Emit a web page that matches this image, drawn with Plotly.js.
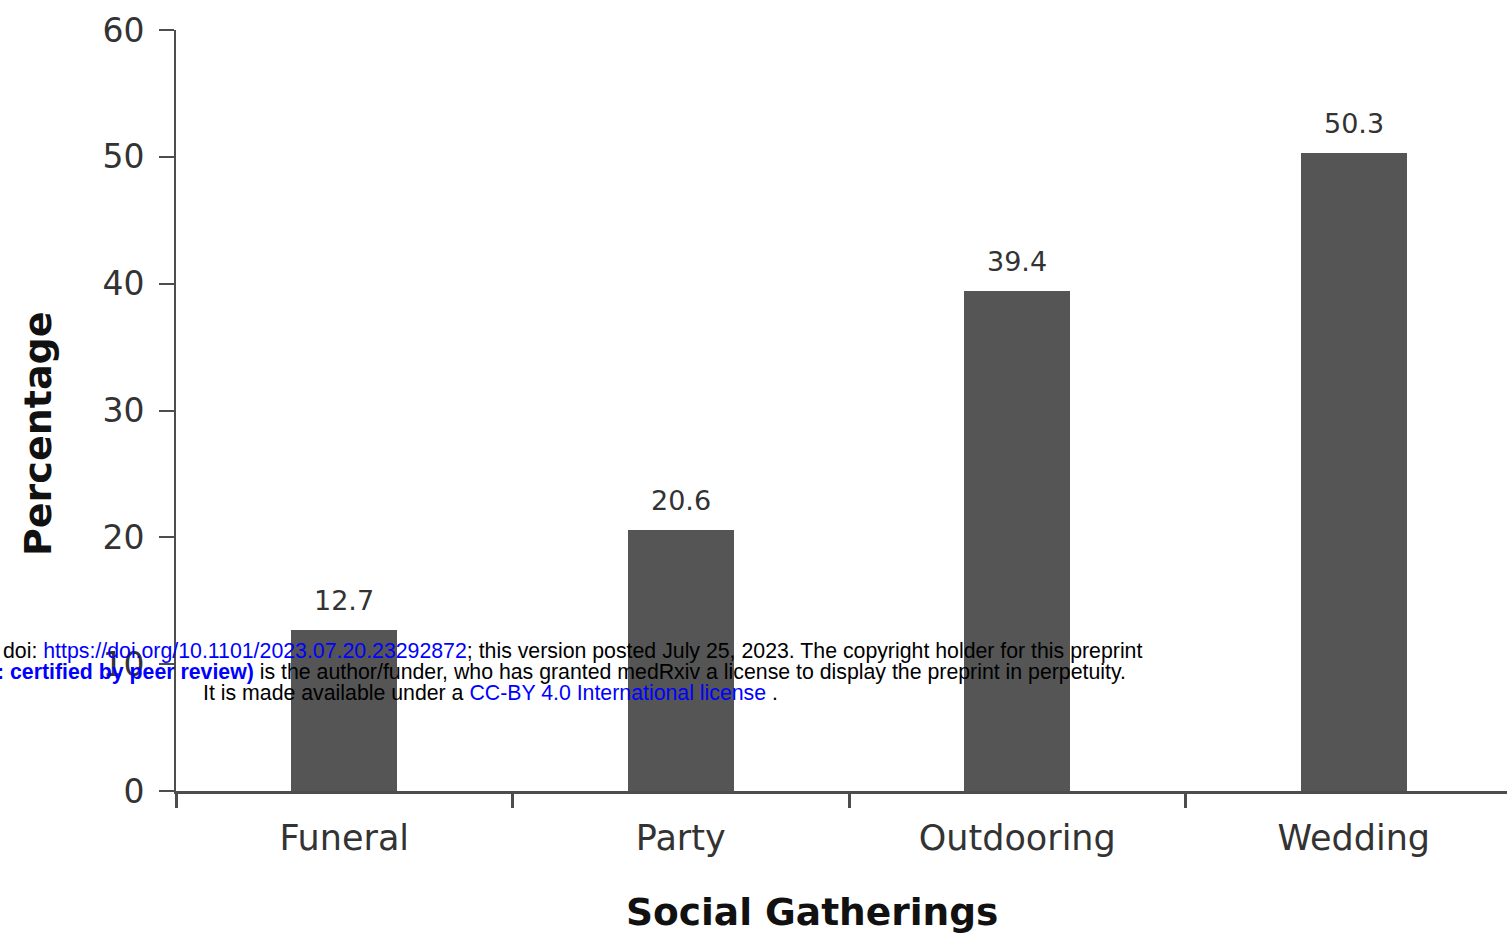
<!DOCTYPE html>
<html>
<head>
<meta charset="utf-8">
<script src="https://cdn.plot.ly/plotly-3.0.1.min.js"></script>
<style>html,body{margin:0;padding:0;background:#fff;}#chart{width:1507px;height:941px;}</style>
</head>
<body>
<div id="chart"></div>
<script>
const categories = ["Funeral", "Party", "Outdooring", "Wedding"];
const percentages = [12.7, 20.6, 39.4, 50.3];
const valueLabels = ["12.7", "20.6", "39.4", "50.3"];
const yTicks = [0, 10, 20, 30, 40, 50, 60];
const xTitle = "Social Gatherings";
const yTitle = "Percentage";

const W = 1507, H = 941;
const L = 176, R = 0, T = 30, B = 150;
const plotW = W - L - R, plotH = H - T - B;
function px2paperX(px){ return (px - L) / plotW; }
function px2paperY(py){ return (H - B - py) / plotH; }

const font = "DejaVu Sans, Verdana, sans-serif";
const textCol = "#333333";
const axisCol = "#4d4d4d";

const trace = {
  type: "bar",
  x: categories,
  y: percentages,
  width: 0.315,
  marker: {color: "#555555", line: {width: 0}},
  hoverinfo: "skip"
};

const annotations = categories.map((c, i) => ({
  x: c, y: percentages[i], xref: "x", yref: "y",
  text: valueLabels[i], showarrow: false,
  yanchor: "bottom", yshift: 12,
  font: {family: font, size: 27, color: textCol}
}));

annotations.push(
  {xref: "paper", yref: "paper", x: px2paperX(812), y: px2paperY(912), xanchor: "center", yanchor: "middle", showarrow: false,
   text: "<b>" + xTitle + "</b>", font: {family: font, size: 37.5, color: "#111"}},
  {xref: "paper", yref: "paper", x: px2paperX(38), y: px2paperY(434), xanchor: "center", yanchor: "middle", showarrow: false, textangle: -90,
   text: "<b>" + yTitle + "</b>", font: {family: font, size: 38, color: "#111"}}
);

const wm = {family: "Liberation Sans, Arial, sans-serif", size: 21.3, color: "#000"};
annotations.push(
  {xref: "paper", yref: "paper", x: px2paperX(1), y: px2paperY(651), xanchor: "left", yanchor: "middle", showarrow: false, font: wm,
   text: 'doi: <span style="color:#0000ff">https://doi.org/10.1101/2023.07.20.23292872</span>; this version posted July 25, 2023. The copyright holder for this preprint'},
  {xref: "paper", yref: "paper", x: px2paperX(1128), y: px2paperY(672), xanchor: "right", yanchor: "middle", showarrow: false, font: wm,
   text: '<span style="color:#0000ff"><b>: certified by peer review)</b></span> is the author/funder, who has granted medRxiv a license to display the preprint in perpetuity.'},
  {xref: "paper", yref: "paper", x: px2paperX(201), y: px2paperY(693), xanchor: "left", yanchor: "middle", showarrow: false, font: wm,
   text: 'It is made available under a <span style="color:#0000ff">CC-BY 4.0 International license</span> .'}
);

const layout = {
  width: W, height: H,
  margin: {l: L, r: R, t: T, b: B, pad: 0},
  paper_bgcolor: "#ffffff", plot_bgcolor: "#ffffff",
  showlegend: false,
  bargap: 0,
  xaxis: {
    type: "category",
    range: [-0.5, -0.5 + plotW / 336.5],
    showgrid: false, zeroline: false,
    showline: true, linecolor: axisCol, linewidth: 3,
    ticks: "outside", tickson: "boundaries", ticklen: 14, tickwidth: 3, tickcolor: axisCol,
    tickfont: {family: font, size: 35, color: textCol},
    ticklabelstandoff: 14
  },
  yaxis: {
    range: [0, 60],
    tickvals: yTicks,
    ticktext: yTicks.map(String),
    showgrid: false, zeroline: false,
    showline: true, linecolor: axisCol, linewidth: 2,
    ticks: "outside", ticklen: 15, tickwidth: 2, tickcolor: axisCol,
    tickfont: {family: font, size: 33, color: textCol},
    ticklabelstandoff: 8
  },
  annotations: annotations
};

Plotly.newPlot("chart", [trace], layout, {displayModeBar: false, staticPlot: true});
</script>
</body>
</html>
